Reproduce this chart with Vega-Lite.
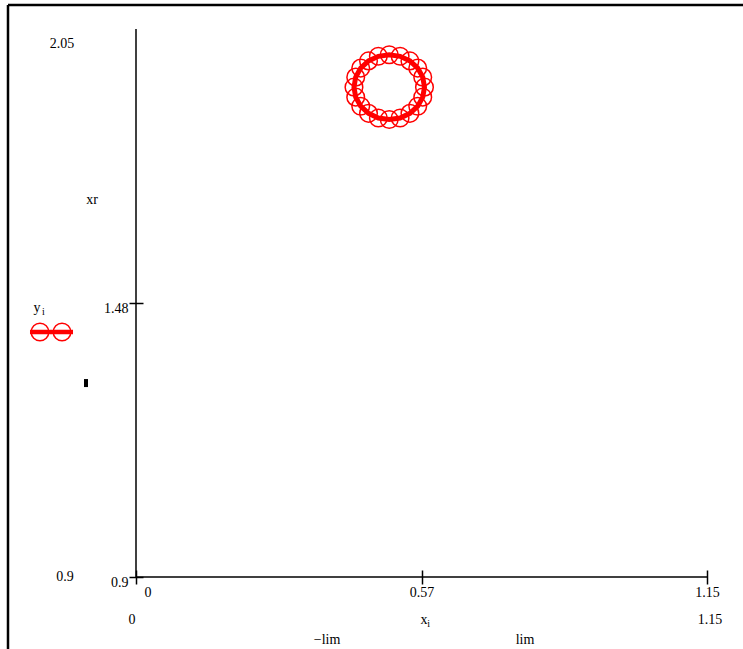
{
  "$schema": "https://vega.github.io/schema/vega-lite/v6.json",
  "width": 571,
  "height": 548,
  "autosize": {"type": "none"},
  "padding": {"left": 136, "top": 29, "right": 36, "bottom": 72},
  "background": "white",
  "config": {
    "view": {"stroke": null},
    "font": "Liberation Serif",
    "axis": {"labelFont": "Liberation Serif", "labelFontSize": 14, "labelColor": "black", "tickColor": "black", "grid": false, "domain": false, "title": null}
  },
  "datasets": {
    "ring": [
      {"k": 0, "x": 0.581, "y": 1.928},
      {"k": 1, "x": 0.5775, "y": 1.949},
      {"k": 2, "x": 0.5674, "y": 1.968},
      {"k": 3, "x": 0.5517, "y": 1.983},
      {"k": 4, "x": 0.5319, "y": 1.9927},
      {"k": 5, "x": 0.510, "y": 1.996},
      {"k": 6, "x": 0.4881, "y": 1.9927},
      {"k": 7, "x": 0.4683, "y": 1.983},
      {"k": 8, "x": 0.4526, "y": 1.968},
      {"k": 9, "x": 0.4425, "y": 1.949},
      {"k": 10, "x": 0.439, "y": 1.928},
      {"k": 11, "x": 0.4425, "y": 1.907},
      {"k": 12, "x": 0.4526, "y": 1.888},
      {"k": 13, "x": 0.4683, "y": 1.873},
      {"k": 14, "x": 0.4881, "y": 1.8633},
      {"k": 15, "x": 0.510, "y": 1.860},
      {"k": 16, "x": 0.5319, "y": 1.8633},
      {"k": 17, "x": 0.5517, "y": 1.873},
      {"k": 18, "x": 0.5674, "y": 1.888},
      {"k": 19, "x": 0.5775, "y": 1.907}
    ],
    "lines": [
      {"x": 0, "x2": 1.15, "y": 0.9, "y2": 0.9},
      {"x": 0, "x2": 0, "y": 0.9, "y2": 2.05}
    ],
    "frame": [
      {"x": -0.2578, "x2": 1.26, "y": 2.1004, "y2": 2.1004},
      {"x": -0.2578, "x2": -0.2578, "y": 2.1004, "y2": 0.72}
    ],
    "legendLine": [
      {"k": 0, "x": -0.2135, "y": 1.4142},
      {"k": 1, "x": -0.1269, "y": 1.4142}
    ],
    "legendPts": [
      {"x": -0.1934, "y": 1.4142},
      {"x": -0.149, "y": 1.4142}
    ],
    "blackPt": [
      {"x": -0.1007, "y": 1.307}
    ],
    "texts": [
      {"label": "2.05", "x": -0.149, "y": 2.0186},
      {"label": "xr", "x": -0.0886, "y": 1.6912},
      {"label": "y", "x": -0.1994, "y": 1.4645},
      {"label": "0.9", "x": -0.143, "y": 0.9},
      {"label": "0", "x": -0.008, "y": 0.8098},
      {"label": "x", "x": 0.5800, "y": 0.8098},
      {"label": "1.15", "x": 1.156, "y": 0.8098},
      {"label": "−lim", "x": 0.3847, "y": 0.7678},
      {"label": "lim", "x": 0.7835, "y": 0.7678}
    ],
    "subs": [
      {"label": "i", "x": -0.1863, "y": 1.4561},
      {"label": "i", "x": 0.5895, "y": 0.8010}
    ]
  },
  "encoding": {
    "x": {
      "field": "x", "type": "quantitative",
      "scale": {"domain": [0, 1.15], "nice": false, "zero": false},
      "axis": {
        "values": [0, 0.575, 1.15],
        "labelExpr": "datum.value === 0 ? '0' : (datum.value < 0.6 ? '0.57' : '1.15')",
        "offset": -7, "tickSize": 14, "tickWidth": 1.5, "labelPadding": 1,
        "labelAlign": {"condition": {"test": "datum.value === 0", "value": "left"}, "value": "center"},
        "labelOffset": {"condition": {"test": "datum.value === 0", "value": 8}, "value": 0},
        "labelFlush": false, "labelOverlap": false
      }
    },
    "y": {
      "field": "y", "type": "quantitative",
      "scale": {"domain": [0.9, 2.05], "nice": false, "zero": false},
      "axis": {
        "values": [0.9, 1.475],
        "labelExpr": "datum.value < 1 ? '0.9' : '1.48'",
        "offset": -7, "tickSize": 14, "tickWidth": 1.5, "labelPadding": 1,
        "labelOffset": 5, "labelFlush": false, "labelOverlap": false
      }
    }
  },
  "layer": [
    {
      "data": {"name": "lines"},
      "mark": {"type": "rule", "color": "black", "strokeWidth": 1.5, "clip": false},
      "encoding": {"x2": {"field": "x2"}, "y2": {"field": "y2"}}
    },
    {
      "data": {"name": "frame"},
      "mark": {"type": "rule", "color": "black", "strokeWidth": 2.5, "clip": false},
      "encoding": {"x2": {"field": "x2"}, "y2": {"field": "y2"}}
    },
    {
      "data": {"name": "ring"},
      "mark": {"type": "line", "interpolate": "linear-closed", "color": "#ff0000", "strokeWidth": 5, "clip": false},
      "encoding": {"order": {"field": "k", "type": "quantitative"}}
    },
    {
      "data": {"name": "ring"},
      "mark": {"type": "point", "shape": "circle", "filled": false, "color": "#ff0000", "size": 310, "strokeWidth": 1.5, "opacity": 1, "clip": false}
    },
    {
      "data": {"name": "legendLine"},
      "mark": {"type": "line", "color": "#ff0000", "strokeWidth": 4.5, "clip": false},
      "encoding": {"order": {"field": "k", "type": "quantitative"}}
    },
    {
      "data": {"name": "legendPts"},
      "mark": {"type": "point", "shape": "circle", "filled": false, "color": "#ff0000", "size": 310, "strokeWidth": 1.5, "opacity": 1, "clip": false}
    },
    {
      "data": {"name": "blackPt"},
      "mark": {"type": "point", "shape": "M-0.5,-1L0.5,-1L0.5,1L-0.5,1Z", "filled": true, "color": "black", "size": 64, "opacity": 1, "clip": false}
    },
    {
      "data": {"name": "texts"},
      "mark": {"type": "text", "font": "Liberation Serif", "fontSize": 14, "color": "black", "align": "center", "baseline": "middle", "clip": false},
      "encoding": {"text": {"field": "label"}}
    },
    {
      "data": {"name": "subs"},
      "mark": {"type": "text", "font": "Liberation Serif", "fontSize": 10, "color": "black", "align": "center", "baseline": "middle", "clip": false},
      "encoding": {"text": {"field": "label"}}
    }
  ]
}
